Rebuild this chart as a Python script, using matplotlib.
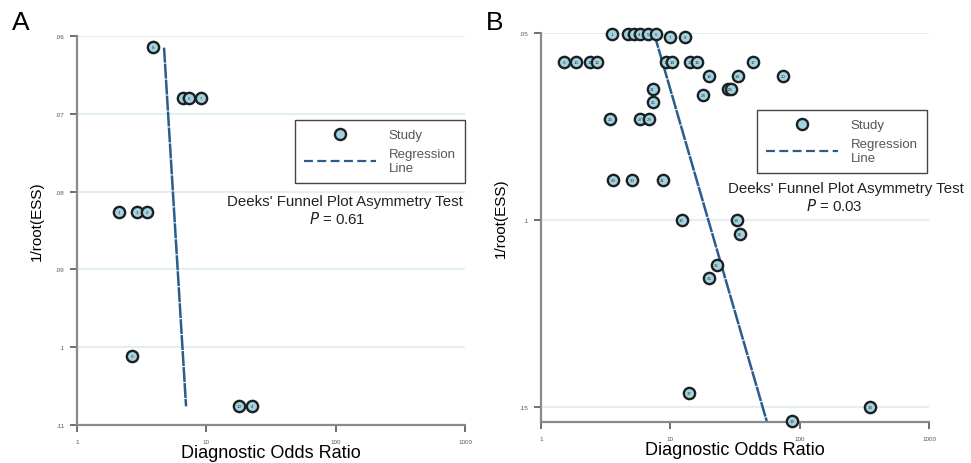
import numpy as np
import matplotlib.pyplot as plt
from matplotlib.lines import Line2D

plt.rcParams['font.family'] = ['Liberation Sans', 'DejaVu Sans']

# panel A - studies (DOR, 1/root(ESS))
a_dor = [3.87, 6.6, 7.35, 9.1, 2.11, 2.91, 3.48, 2.66, 17.9, 22.5]
a_ess = [0.0614, 0.0680, 0.0680, 0.0680, 0.0826, 0.0826, 0.0826, 0.1011, 0.1076, 0.1076]
a_ids = ['8', '5', '6', '7', '1', '3', '2', '9', '10', '4']
a_reg_dor = [4.71, 6.97]
a_reg_ess = [0.0615, 0.1076]
a_yticks = [0.06, 0.07, 0.08, 0.09, 0.1, 0.11]
a_ylabels = ['.06', '.07', '.08', '.09', '.1', '.11']
a_p = '0.61'

# panel B
b_dor = [3.54, 4.67, 5.19, 5.78, 6.72, 7.75,
         10.0, 13.0,
         1.51, 1.87, 2.37, 2.71, 9.26, 10.3, 14.1, 16.0, 43.6,
         19.9, 33.1, 74.8,
         7.28, 27.7, 29.2,
         17.9, 7.35,
         3.42, 5.83, 6.88,
         3.62, 5.03, 8.70,
         12.2, 32.5, 34.3,
         22.8, 19.9, 13.9, 350, 86.9]
b_ess = [0.0503, 0.0503, 0.0503, 0.0503, 0.0503, 0.0503,
         0.0511, 0.0511,
         0.0578, 0.0578, 0.0578, 0.0578, 0.0578, 0.0578, 0.0578, 0.0578, 0.0578,
         0.0616, 0.0616, 0.0616,
         0.0650, 0.0650, 0.0650,
         0.0667, 0.0685,
         0.0731, 0.0731, 0.0731,
         0.0894, 0.0894, 0.0894,
         0.1001, 0.1001, 0.1037,
         0.1119, 0.1156, 0.1463, 0.1501, 0.1538]
b_ids = [str(i + 1) for i in range(len(b_dor))]
b_reg_dor = [7.48, 55.6]
b_reg_ess = [0.0501, 0.1538]
b_yticks = [0.05, 0.1, 0.15]
b_ylabels = ['.05', '.1', '.15']
b_p = '0.03'

xticks = [1, 10, 100, 1000]
xlabels = ['1', '10', '100', '1000']

face = '#a3d3e0'
edge = '#1b1f22'
regc = '#2a5d8c'
grey = '#8a8a8a'
txtc = '#555555'

fig = plt.figure(figsize=(9.71, 4.64), dpi=100)
axA = fig.add_axes([0.0793, 0.0819, 0.3996, 0.8384])
axB = fig.add_axes([0.5572, 0.0884, 0.3996, 0.8384])


def panel(ax, dor, ess, ids, rdor, ress, yt, yl, ylim, p, leg_anchor, txt_xy, p_dx):
    for y in yt:
        ax.axhline(y, color='#e4eff3', lw=1.6, zorder=0)
    ax.plot(rdor, ress, color=regc, lw=1.8, ls=(0, (6, 0.4)), zorder=2)
    ax.scatter(dor, ess, s=66, facecolor=face, edgecolor=edge, linewidth=1.7,
               zorder=3, clip_on=False)
    for x, y, t in zip(dor, ess, ids):
        ax.text(x, y, t, fontsize=3.2, ha='center', va='center', color='#333333',
                zorder=4, clip_on=False)
    ax.set_xscale('log')
    ax.set_xlim(1, 1000)
    ax.set_ylim(*ylim)
    ax.set_xticks(xticks)
    ax.set_xticklabels(xlabels)
    ax.minorticks_off()
    ax.set_yticks(yt)
    ax.set_yticklabels(yl)
    ax.tick_params(labelsize=4.5, colors=txtc, length=5, width=1.2, pad=4)
    ax.tick_params(axis='x', pad=5)
    for s in ['top', 'right']:
        ax.spines[s].set_visible(False)
    for s in ['left', 'bottom']:
        ax.spines[s].set_color(grey)
        ax.spines[s].set_linewidth(1.6)
    ax.set_xlabel('Diagnostic Odds Ratio', fontsize=13, labelpad=0)
    ax.set_ylabel('1/root(ESS)', fontsize=11)
    ax.yaxis.set_label_coords(-0.085, 0.527)
    handles = [Line2D([], [], marker='o', ls='none', markersize=8,
                      markerfacecolor=face, markeredgecolor=edge, markeredgewidth=1.7),
               Line2D([], [], color=regc, lw=1.6, ls=(0, (4, 2)))]
    leg = ax.legend(handles, ['Study', 'Regression\nLine'], loc='upper right',
                    bbox_to_anchor=leg_anchor, borderaxespad=0, fancybox=False,
                    edgecolor='#444444', fontsize=9.5, handlelength=5.4,
                    handletextpad=1.0, borderpad=0.7, labelspacing=0.5,
                    framealpha=1)
    leg.get_frame().set_linewidth(1.0)
    for t in leg.get_texts():
        t.set_color(txtc)
    ax.text(txt_xy[0], txt_xy[1], "Deeks' Funnel Plot Asymmetry Test",
            transform=ax.transAxes, ha='center', va='center', fontsize=10.8,
            color='#222222', clip_on=False)
    ax.text(txt_xy[0] + p_dx, txt_xy[1] - 0.045, '$P$ = ' + p,
            transform=ax.transAxes, ha='center', va='center', fontsize=10.8,
            color='#222222', clip_on=False)


panel(axA, a_dor, a_ess, a_ids, a_reg_dor, a_reg_ess, a_yticks,
      a_ylabels, (0.11, 0.06), a_p, (1.0, 0.784), (0.69, 0.576), -0.02)
panel(axB, b_dor, b_ess, b_ids, b_reg_dor, b_reg_ess, b_yticks, b_ylabels,
      (0.154, 0.05), b_p, (0.995, 0.802), (0.785, 0.602), -0.028)

fig.text(0.012, 0.951, 'A', fontsize=19, va='center')
fig.text(0.5, 0.951, 'B', fontsize=19, va='center')

fig.savefig('out.png', dpi=100)
